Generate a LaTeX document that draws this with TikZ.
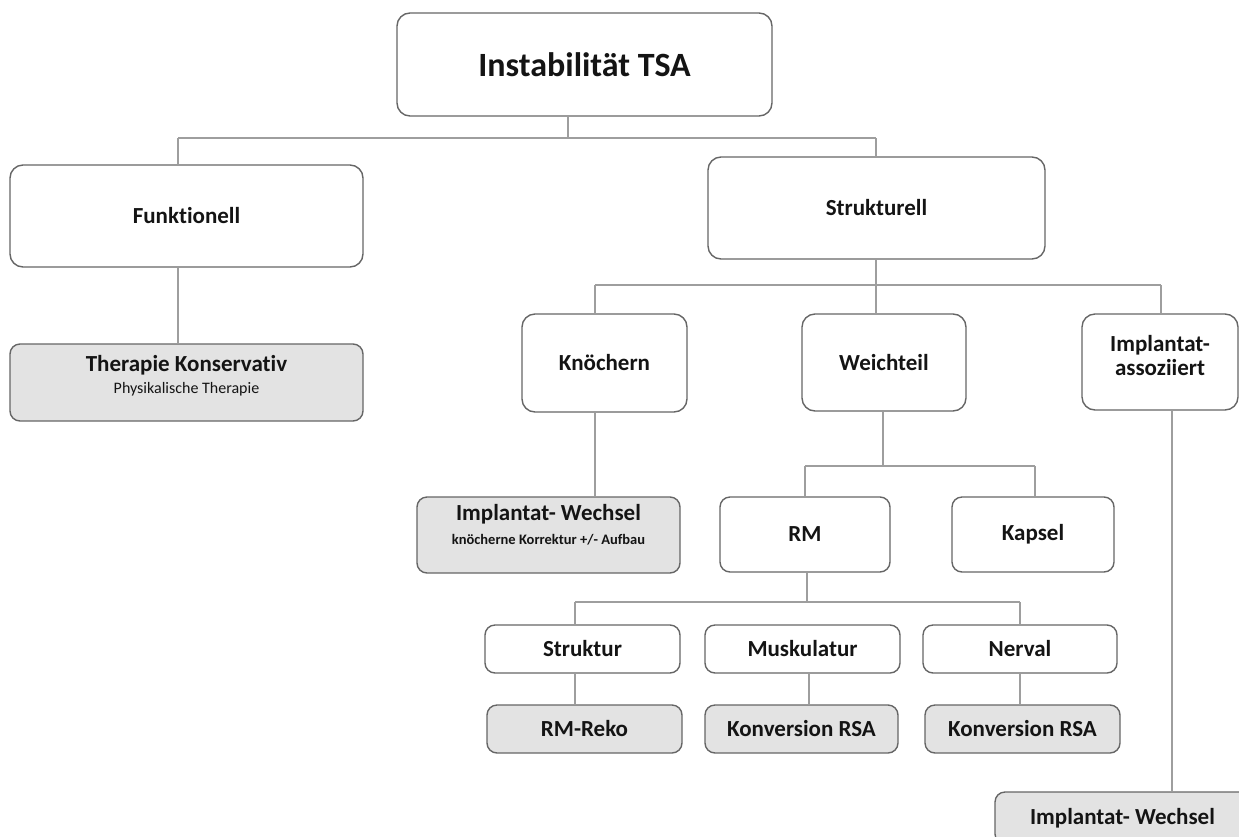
\documentclass[tikz,border=0pt]{standalone}
\usepackage{fontspec}
\setmainfont{Carlito}[Ligatures=NoCommon]
\newcommand{\dropdepth}[1]{\rule[-#1]{0pt}{0pt}}
\begin{document}
\begin{tikzpicture}[x=1pt,y=-1pt,
  box/.style={draw=black!60, line width=1.4pt, rounded corners=13pt, fill=white,
    align=center, inner sep=0pt, text=black!92,
    font=\fontsize{23}{27}\selectfont\bfseries},
  sbox/.style={box, rounded corners=10pt},
  gbox/.style={sbox, fill=black!11},
  conn/.style={draw=black!38, line width=1.2pt}]
\useasboundingbox (0,0) rectangle (1239,836);
\clip (0,0) rectangle (1239,836);

% nodes
\node[box, minimum width=375pt, minimum height=103pt, font=\fontsize{34}{38}\selectfont\bfseries] (top) at (584.5,64.5) {Instabilität TSA};
\node[box, minimum width=353pt, minimum height=102pt] (funk) at (186.5,216) {Funktionell};
\node[gbox, minimum width=353pt, minimum height=77pt] (ther) at (186.5,382.5) {Therapie Konservativ\\[-5pt]{\fontsize{16}{18}\selectfont\mdseries Physikalische Therapie\dropdepth{17pt}}};
\node[box, minimum width=337pt, minimum height=102pt] (struk) at (876.5,208) {Strukturell};
\node[box, minimum width=165pt, minimum height=98pt] (knoch) at (604.5,363) {Knöchern};
\node[box, minimum width=164pt, minimum height=97pt] (weich) at (884,362.5) {Weichteil};
\node[box, minimum width=156pt, minimum height=96pt, font=\fontsize{23}{24}\selectfont\bfseries] (impl) at (1160,362) {Implantat-\\assoziiert\dropdepth{14pt}};
\node[gbox, minimum width=263pt, minimum height=76pt] (iwa) at (548.5,535) {Implantat- Wechsel\\[-3pt]{\fontsize{14.5}{17}\selectfont knöcherne Korrektur +/- Aufbau\dropdepth{21pt}}};
\node[sbox, minimum width=170pt, minimum height=75pt] (rm) at (805,534.5) {RM};
\node[sbox, minimum width=162pt, minimum height=75pt] (kap) at (1033,534.5) {Kapsel};
\node[sbox, minimum width=195pt, minimum height=48pt] (strk) at (582.5,649) {Struktur};
\node[sbox, minimum width=195pt, minimum height=48pt] (musk) at (802.5,649) {Muskulatur};
\node[sbox, minimum width=194pt, minimum height=48pt] (nerv) at (1020,649) {Nerval};
\node[gbox, minimum width=195pt, minimum height=48pt] (reko) at (584.5,729) {RM-Reko};
\node[gbox, minimum width=193pt, minimum height=48pt] (konva) at (801.5,729) {Konversion RSA};
\node[gbox, minimum width=195pt, minimum height=48pt] (konvb) at (1022.5,729) {Konversion RSA};
\node[gbox, minimum width=255pt, minimum height=52pt] (iwb) at (1122.5,818) {Implantat- Wechsel};

% junctions
\coordinate (jT) at (568,138);
\coordinate (jTl) at (178,138);
\coordinate (jTr) at (876,138);
\coordinate (jS) at (876,285);
\coordinate (jSl) at (595,285);
\coordinate (jSr) at (1161,285);
\coordinate (jW) at (883,466);
\coordinate (jWl) at (805,466);
\coordinate (jWr) at (1035,466);
\coordinate (jI) at (1172,0);
\coordinate (jR) at (807,602);
\coordinate (jRl) at (575,602);
\coordinate (jRr) at (1020,602);
\coordinate (jM) at (809,0);

% connectors
\draw[conn] (top.south -| jT) -- (jT);
\draw[conn] (jTl) -- (jTr);
\draw[conn] (jTl) -- (funk.north -| jTl);
\draw[conn] (jTr) -- (struk.north -| jTr);
\draw[conn] (funk.south -| jTl) -- (ther.north -| jTl);

\draw[conn] (struk.south -| jS) -- (jS);
\draw[conn] (jSl) -- (jSr);
\draw[conn] (jSl) -- (knoch.north -| jSl);
\draw[conn] (jS) -- (weich.north -| jS);
\draw[conn] (jSr) -- (impl.north -| jSr);
\draw[conn] (knoch.south -| jSl) -- (iwa.north -| jSl);

\draw[conn] (weich.south -| jW) -- (jW);
\draw[conn] (jWl) -- (jWr);
\draw[conn] (jWl) -- (rm.north -| jWl);
\draw[conn] (jWr) -- (kap.north -| jWr);

\draw[conn] (impl.south -| jI) -- (iwb.north -| jI);

\draw[conn] (rm.south -| jR) -- (jR);
\draw[conn] (jRl) -- (jRr);
\draw[conn] (jRl) -- (strk.north -| jRl);
\draw[conn] (jRr) -- (nerv.north -| jRr);
\draw[conn] (strk.south -| jRl) -- (reko.north -| jRl);
\draw[conn] (musk.south -| jM) -- (konva.north -| jM);
\draw[conn] (nerv.south -| jRr) -- (konvb.north -| jRr);
\end{tikzpicture}
\end{document}
